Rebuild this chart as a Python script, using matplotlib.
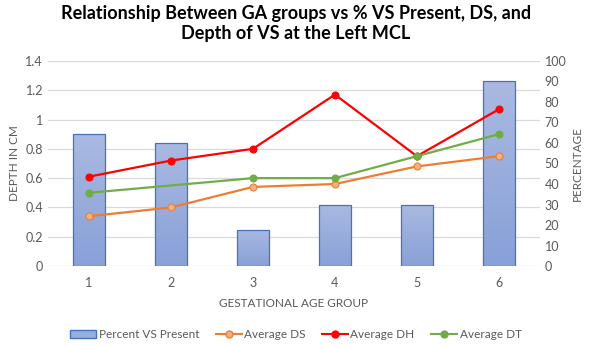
import numpy as np
import matplotlib
matplotlib.use("Agg")
import matplotlib.pyplot as plt
from matplotlib.lines import Line2D
from matplotlib.patches import Patch
from matplotlib.colors import LinearSegmentedColormap

plt.rcParams['font.family'] = ['Lato', 'DejaVu Sans']

groups = [1, 2, 3, 4, 5, 6]
pct_vs_present = [64.3, 60.0, 17.6, 30.0, 30.0, 90.0]
avg_ds = [0.34, 0.40, 0.54, 0.56, 0.68, 0.75]
avg_dh = [0.61, 0.72, 0.80, 1.17, 0.75, 1.07]
avg_dt = [0.50, np.nan, 0.60, 0.60, 0.75, 0.90]

grey = '#595959'
fig = plt.figure(figsize=(5.92, 3.46), dpi=100)
ax = fig.add_axes([0.081, 0.231, 0.831, 0.593])
ax2 = ax.twinx()

# bars on the right (percentage) axis, with a light vertical gradient
x = np.array(groups)
bars = ax2.bar(x, pct_vs_present, width=0.4, color='#9AAEDC',
               edgecolor='#4472C4', linewidth=0.9, zorder=2)
grad = np.linspace(0, 1, 100).reshape(-1, 1)
cm = LinearSegmentedColormap.from_list('g', ['#88A1D8', '#AAB9E1'])
for b in bars:
    bx, by = b.get_x(), b.get_y()
    im = ax2.imshow(grad, cmap=cm, origin='lower', aspect='auto',
                    extent=[bx, bx + b.get_width(), by, by + b.get_height()],
                    zorder=2)
    im.set_clip_path(b)
    b.set_facecolor('none')
    b.set_zorder(3)

ax2.set_ylim(0, 100)
ax2.set_yticks(range(0, 101, 10))
ax2.set_ylabel('PERCENTAGE', color=grey, fontsize=8.5)

# depth lines: drawn on ax2 (rescaled from the 0-1.4 cm axis) so they sit above the bars
scale = 100 / 1.4
def plot_line(vals, col, face):
    v = np.array(vals, dtype=float)
    m = ~np.isnan(v)
    ax2.plot(x[m], v[m] * scale, color=col, linewidth=1.6, zorder=4)
    ax2.plot(x, v * scale, linestyle='none', marker='o', markersize=5,
             markerfacecolor=face, markeredgecolor=col, markeredgewidth=0.8,
             zorder=5)

plot_line(avg_ds, '#ED7D31', '#F4B183')
plot_line(avg_dh, '#FF0000', '#FF0000')
plot_line(avg_dt, '#70AD47', '#70AD47')

ax.set_ylim(0, 1.4)
ax.set_yticks(np.arange(0, 1.41, 0.2))
ax.set_yticklabels(['0', '0.2', '0.4', '0.6', '0.8', '1', '1.2', '1.4'])
ax.set_xlim(0.5, 6.5)
ax.set_xticks(groups)
ax.grid(axis='y', color='#D9D9D9', linewidth=0.9, zorder=0)
ax.set_axisbelow(True)
ax.set_ylabel('DEPTH IN CM', color=grey, fontsize=8.5)
ax.set_xlabel('GESTATIONAL AGE GROUP', color=grey, fontsize=8.5, labelpad=6)

for a in (ax, ax2):
    for s in a.spines.values():
        s.set_visible(False)
    a.tick_params(length=0, colors=grey, labelsize=9)
ax.tick_params(axis='x', pad=8)

fig.suptitle('Relationship Between GA groups vs % VS Present, DS, and\nDepth of VS at the Left MCL',
             fontsize=13, fontweight='bold', y=0.985)

handles = [
    Patch(facecolor='#9AAEDC', edgecolor='#4472C4', label='Percent VS Present'),
    Line2D([], [], color='#ED7D31', marker='o', markerfacecolor='#F4B183',
           markersize=5, label='Average DS'),
    Line2D([], [], color='#FF0000', marker='o', markersize=5, label='Average DH'),
    Line2D([], [], color='#70AD47', marker='o', markersize=5, label='Average DT'),
]
fig.legend(handles=handles, loc='center', bbox_to_anchor=(0.5, 0.032), ncol=4,
           frameon=False, fontsize=8.5, labelcolor=grey, handlelength=2.2,
           columnspacing=1.4, handletextpad=0.2)

fig.savefig('out.png', dpi=100)
